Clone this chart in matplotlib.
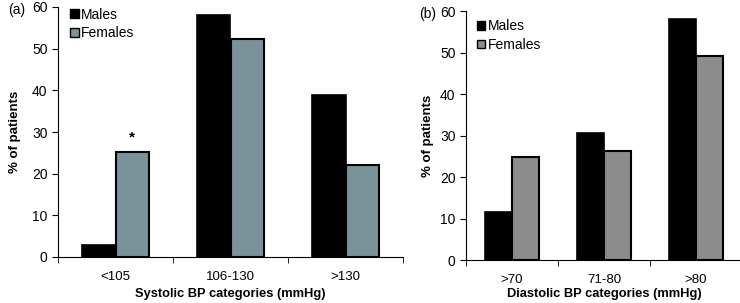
import numpy as np
import matplotlib.pyplot as plt
from matplotlib.patches import Patch

plt.rcParams['font.family'] = ['Liberation Sans', 'DejaVu Sans']

sys_labels = ['<105', '106-130', '>130']
sys_males = [2.8, 58.1, 39.0]
sys_females = [25.3, 52.3, 22.2]

dia_labels = ['>70', '71-80', '>80']
dia_males = [11.5, 30.5, 58.1]
dia_females = [24.7, 26.2, 49.2]

fig = plt.figure(figsize=(7.4, 3.03), dpi=100)
ax1 = fig.add_axes([58/740, 46/303, 345/740, 250/303])
ax2 = fig.add_axes([466/740, 43/303, 276/740, 249/303])


def panel(ax, labels, males, females, fcolor, xlabel, tag, tagx, xpad, ypad, leg_y):
    x = np.arange(len(labels))
    w = 0.29
    ax.bar(x - w/2, males, w, color='black', edgecolor='black', linewidth=1.2)
    ax.bar(x + w/2, females, w, color=fcolor, edgecolor='black', linewidth=1.5)
    ax.set_xlim(-0.5, len(labels) - 0.5)
    ax.set_ylim(0, 60)
    ax.set_yticks(range(0, 61, 10))
    ax.set_xticks(x)
    ax.set_xticklabels(labels, fontsize=9.5)
    ax.set_xticks(np.arange(len(labels) + 1) - 0.5, minor=True)
    ax.tick_params(axis='x', which='major', length=0, pad=10)
    ax.tick_params(axis='x', which='minor', length=4, direction='out')
    ax.tick_params(axis='y', length=4, direction='out', labelsize=10)
    for s in ['top', 'right']:
        ax.spines[s].set_visible(False)
    ax.set_xlabel(xlabel, fontsize=9.3, fontweight='bold', labelpad=xpad)
    ax.set_ylabel('% of patients', fontsize=9.5, fontweight='bold', labelpad=ypad)
    handles = [Patch(facecolor='black', edgecolor='black', label='Males'),
               Patch(facecolor=fcolor, edgecolor='black', label='Females')]
    ax.legend(handles=handles, loc='upper left', frameon=False, fontsize=10,
              handlelength=0.6, handleheight=0.6, handletextpad=0.15,
              labelspacing=0.35, borderaxespad=0.0, bbox_to_anchor=(0.02, leg_y))
    fig.text(tagx, ax.get_position().y1 - 0.01, tag, fontsize=10,
             ha='left', va='center')


panel(ax1, sys_labels, sys_males, sys_females, '#7a9399',
      'Systolic BP categories (mmHg)', '(a)', 8/740, 3.5, 8, 1.02)
panel(ax2, dia_labels, dia_males, dia_females, '#8c8c8c',
      'Diastolic BP categories (mmHg)', '(b)', 419/740, 1.5, 4, 0.99)

ax1.text(0 + 0.29/2, sys_females[0] + 3.3, '*', ha='center', va='center',
         fontsize=11, fontweight='bold')

fig.savefig('out.png', dpi=100)
